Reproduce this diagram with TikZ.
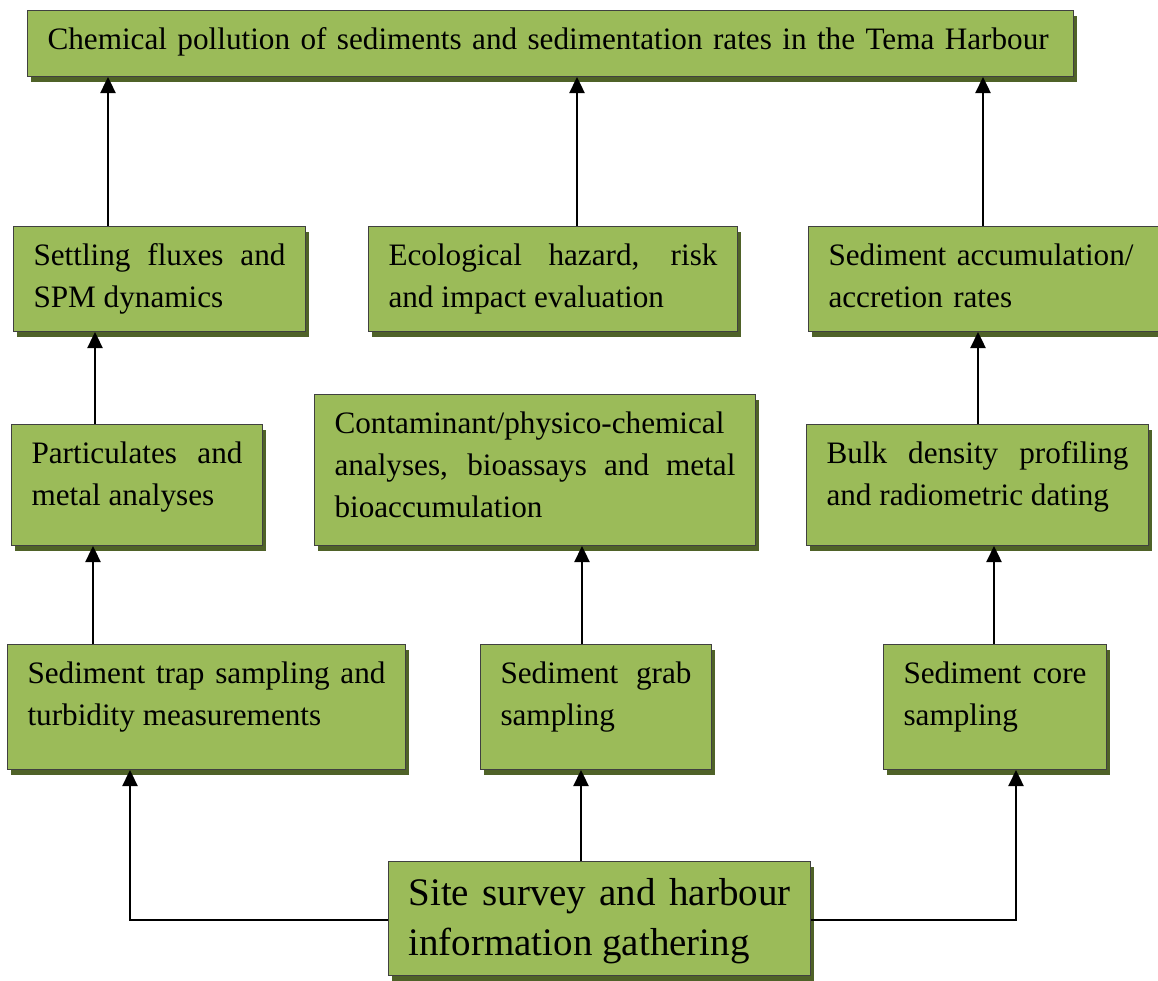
\documentclass[tikz,border=0pt]{standalone}
\usepackage{fontspec}
\setmainfont{Liberation Serif}
\usetikzlibrary{arrows.meta,shadows}
\definecolor{boxgreen}{HTML}{9BBB59}
\definecolor{shadegreen}{HTML}{4F6228}
\hyphenpenalty=10000
\exhyphenpenalty=10000
\tolerance=10000

\begin{document}
\begin{tikzpicture}[x=1pt,y=-1pt,
  gbox/.style={draw=black!75, line width=1pt, fill=boxgreen, anchor=north west,
    inner xsep=20pt, inner ysep=0pt, text height=39pt, align=justify,
    font=\fontsize{31.2}{42}\selectfont,
    drop shadow={shadow xshift=3pt, shadow yshift=-5pt, fill=shadegreen, opacity=1}},
  up/.style={-{Triangle[width=15pt,length=16pt]}, line width=2.4pt}]
\useasboundingbox (0,0) rectangle (1158,980);

\node[gbox, align=left, text width=1006pt, text depth=27pt] (goal) at (27,10)
  {Chemical pollution of sediments and sedimentation rates in the Tema Harbour};

\node[gbox, text width=252pt, text depth=66pt] (settle) at (13,226)
  {Settling fluxes and SPM dynamics};
\node[gbox, text width=329pt, text depth=66pt] (eco) at (368,226)
  {Ecological hazard, risk and impact evaluation};
\node[gbox, align=left, text width=312pt, text depth=66pt] (accum) at (808,226)
  {Sediment accumulation/ accretion rates};

\node[gbox, text width=211pt, text depth=82pt] (partic) at (11,424)
  {Particulates and metal analyses};
\node[gbox, text width=401pt, text depth=112pt] (contam) at (314,394)
  {Contaminant/physico-chemical analyses, bioassays and metal bioaccumulation};
\node[gbox, text width=302pt, text depth=82pt] (bulk) at (806,424)
  {Bulk density profiling and radiometric dating};

\node[gbox, text width=358pt, text depth=86pt] (trap) at (7,644)
  {Sediment trap sampling and turbidity measurements};
\node[gbox, text width=191pt, text depth=86pt] (grab) at (480,644)
  {Sediment grab sampling};
\node[gbox, text width=183pt, text depth=86pt] (core) at (883,644)
  {Sediment core sampling};

\node[gbox, text width=382pt, text height=44pt, text depth=70pt,
  font=\fontsize{39}{50}\selectfont] (site) at (388,861)
  {Site survey and harbour information gathering};

\draw[up] (settle.north -| 108,0) -- (goal.south -| 108,0);
\draw[up] (eco.north -| 577,0) -- (goal.south -| 577,0);
\draw[up] (accum.north -| 983,0) -- (goal.south -| 983,0);
\draw[up] (partic.north -| 95,0) -- (settle.south -| 95,0);
\draw[up] (bulk.north -| 978,0) -- (accum.south -| 978,0);
\draw[up] (trap.north -| 93,0) -- (partic.south -| 93,0);
\draw[up] (grab.north -| 582,0) -- (contam.south -| 582,0);
\draw[up] (core.north -| 994,0) -- (bulk.south -| 994,0);
\draw[up] (site.north -| 581,0) -- (grab.south -| 581,0);
\draw[up] (site.west |- 0,920) -| (trap.south -| 130,0);
\draw[up] (site.east |- 0,920) -| (core.south -| 1016,0);
\end{tikzpicture}
\end{document}
